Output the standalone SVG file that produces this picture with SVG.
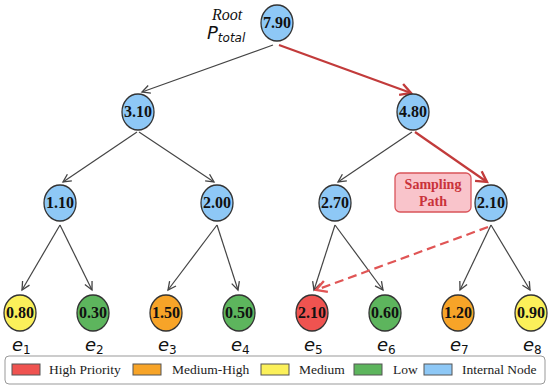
<svg xmlns="http://www.w3.org/2000/svg" width="550" height="387" viewBox="0 0 550 387">
<style>
.n{stroke:#333;stroke-width:1.3}
.blue{fill:#8ec8f6}.red{fill:#ef5350}.org{fill:#f7a428}.yel{fill:#fbf05a}.grn{fill:#5db55d}
.v{font-family:"Liberation Serif",serif;font-weight:bold;font-size:16px;text-anchor:middle;fill:#111}
.e{stroke:#444;stroke-width:1.2;fill:none}
.r{stroke:#c23b3b;stroke-width:2.2;fill:none}
.rd{stroke:#e05555;stroke-width:2.2;fill:none;stroke-dasharray:9 5}
.lab{font-family:"DejaVu Sans",sans-serif;font-style:italic;font-size:18px;fill:#111}
.sub{font-family:"DejaVu Sans",sans-serif;font-style:normal;font-size:12px}
.lg{font-family:"Liberation Serif",serif;font-size:13.5px;fill:#222}
.sw{stroke:#555;stroke-width:1}
</style>
<defs>
<marker id="ag" markerUnits="userSpaceOnUse" markerWidth="12" markerHeight="12" refX="9" refY="5" orient="auto" viewBox="0 0 12 10">
<path d="M1,1 L9,5 L1,9" fill="none" stroke="#444" stroke-width="1.3"/>
</marker>
<marker id="ar" markerUnits="userSpaceOnUse" markerWidth="14" markerHeight="14" refX="10" refY="6" orient="auto" viewBox="0 0 12 12">
<path d="M1,1 L10,6 L1,11" fill="none" stroke="#c23b3b" stroke-width="2"/>
</marker>
<marker id="ard" markerUnits="userSpaceOnUse" markerWidth="14" markerHeight="14" refX="10" refY="6" orient="auto" viewBox="0 0 12 12">
<path d="M1,1 L10,6 L1,11" fill="none" stroke="#e05555" stroke-width="2"/>
</marker>
</defs>
<rect width="550" height="387" fill="#fff"/>
<g id="connectors">
<line class="e" x1="273" y1="45" x2="142" y2="92" marker-end="url(#ag)"/>
<line class="r" x1="279" y1="45" x2="411" y2="93" marker-end="url(#ar)"/>
<line class="e" x1="137" y1="132" x2="63" y2="182" marker-end="url(#ag)"/>
<line class="e" x1="139" y1="132" x2="214" y2="182" marker-end="url(#ag)"/>
<line class="e" x1="412" y1="132" x2="338" y2="182" marker-end="url(#ag)"/>
<line class="r" x1="415" y1="132" x2="487" y2="182" marker-end="url(#ar)"/>
<line class="e" x1="60" y1="225" x2="22" y2="290" marker-end="url(#ag)"/>
<line class="e" x1="60" y1="225" x2="92" y2="290" marker-end="url(#ag)"/>
<line class="e" x1="217" y1="225" x2="168" y2="290" marker-end="url(#ag)"/>
<line class="e" x1="217" y1="225" x2="238" y2="290" marker-end="url(#ag)"/>
<line class="e" x1="335" y1="225" x2="314" y2="290" marker-end="url(#ag)"/>
<line class="e" x1="335" y1="225" x2="383" y2="290" marker-end="url(#ag)"/>
<line class="e" x1="491" y1="225" x2="460" y2="290" marker-end="url(#ag)"/>
<line class="e" x1="491" y1="225" x2="530" y2="290" marker-end="url(#ag)"/>
<line class="rd" x1="488" y1="227" x2="316" y2="290" marker-end="url(#ard)"/>
</g>
<g id="root-label">
<text x="227" y="20" font-family="Liberation Serif,serif" font-style="italic" font-size="16" text-anchor="middle" fill="#111">Root</text>
<text x="207" y="39" font-family="DejaVu Sans,sans-serif" font-style="italic" font-size="18" fill="#111">P<tspan font-size="12" dy="3">total</tspan></text>
</g>
<g id="n-root"><ellipse class="n blue" cx="277" cy="23" rx="16" ry="18"/><text class="v" x="277" y="28">7.90</text></g>
<g id="n-310"><ellipse class="n blue" cx="138" cy="112" rx="16" ry="18"/><text class="v" x="138" y="117">3.10</text></g>
<g id="n-480"><ellipse class="n blue" cx="413" cy="112" rx="16" ry="18"/><text class="v" x="413" y="117">4.80</text></g>
<g id="n-110"><ellipse class="n blue" cx="60" cy="203" rx="16" ry="18"/><text class="v" x="60" y="208">1.10</text></g>
<g id="n-200"><ellipse class="n blue" cx="217" cy="203" rx="16" ry="18"/><text class="v" x="217" y="208">2.00</text></g>
<g id="n-270"><ellipse class="n blue" cx="335" cy="203" rx="16" ry="18"/><text class="v" x="335" y="208">2.70</text></g>
<g id="n-210"><ellipse class="n blue" cx="491" cy="203" rx="16" ry="18"/><text class="v" x="491" y="208">2.10</text></g>
<g id="sampling-path">
<rect x="395" y="173" width="76" height="39" rx="5" fill="#f9c4cb" stroke="#d9545a" stroke-width="1.3"/>
<text x="433" y="189" font-family="Liberation Serif,serif" font-weight="bold" font-size="14" text-anchor="middle" fill="#c9323a">Sampling</text>
<text x="433" y="206" font-family="Liberation Serif,serif" font-weight="bold" font-size="14" text-anchor="middle" fill="#c9323a">Path</text>
</g>
<g id="leaf-e1"><ellipse class="n yel" cx="20" cy="313" rx="16" ry="18"/><text class="v" x="20" y="318">0.80</text><text class="lab" x="12" y="351">e<tspan class="sub" dy="3">1</tspan></text></g>
<g id="leaf-e2"><ellipse class="n grn" cx="93" cy="313" rx="16" ry="18"/><text class="v" x="93" y="318">0.30</text><text class="lab" x="85" y="351">e<tspan class="sub" dy="3">2</tspan></text></g>
<g id="leaf-e3"><ellipse class="n org" cx="166" cy="313" rx="16" ry="18"/><text class="v" x="166" y="318">1.50</text><text class="lab" x="158" y="351">e<tspan class="sub" dy="3">3</tspan></text></g>
<g id="leaf-e4"><ellipse class="n grn" cx="239" cy="313" rx="16" ry="18"/><text class="v" x="239" y="318">0.50</text><text class="lab" x="231" y="351">e<tspan class="sub" dy="3">4</tspan></text></g>
<g id="leaf-e5"><ellipse class="n red" cx="312" cy="313" rx="16" ry="18"/><text class="v" x="312" y="318">2.10</text><text class="lab" x="304" y="351">e<tspan class="sub" dy="3">5</tspan></text></g>
<g id="leaf-e6"><ellipse class="n grn" cx="385" cy="313" rx="16" ry="18"/><text class="v" x="385" y="318">0.60</text><text class="lab" x="377" y="351">e<tspan class="sub" dy="3">6</tspan></text></g>
<g id="leaf-e7"><ellipse class="n org" cx="458" cy="313" rx="16" ry="18"/><text class="v" x="458" y="318">1.20</text><text class="lab" x="450" y="351">e<tspan class="sub" dy="3">7</tspan></text></g>
<g id="leaf-e8"><ellipse class="n yel" cx="531" cy="313" rx="16" ry="18"/><text class="v" x="531" y="318">0.90</text><text class="lab" x="523" y="351">e<tspan class="sub" dy="3">8</tspan></text></g>
<g id="legend">
<rect x="5" y="356" width="540" height="28" rx="4" fill="#fff" stroke="#999" stroke-width="1"/>
<rect class="sw red" x="12" y="364" width="28" height="11"/>
<text class="lg" x="49" y="374">High Priority</text>
<rect class="sw org" x="133" y="364" width="28" height="11"/>
<text class="lg" x="172" y="374">Medium-High</text>
<rect class="sw yel" x="261" y="364" width="28" height="11"/>
<text class="lg" x="299" y="374">Medium</text>
<rect class="sw grn" x="354" y="364" width="28" height="11"/>
<text class="lg" x="393" y="374">Low</text>
<rect class="sw blue" x="424" y="364" width="28" height="11"/>
<text class="lg" x="462" y="374">Internal Node</text>
</g>
</svg>
